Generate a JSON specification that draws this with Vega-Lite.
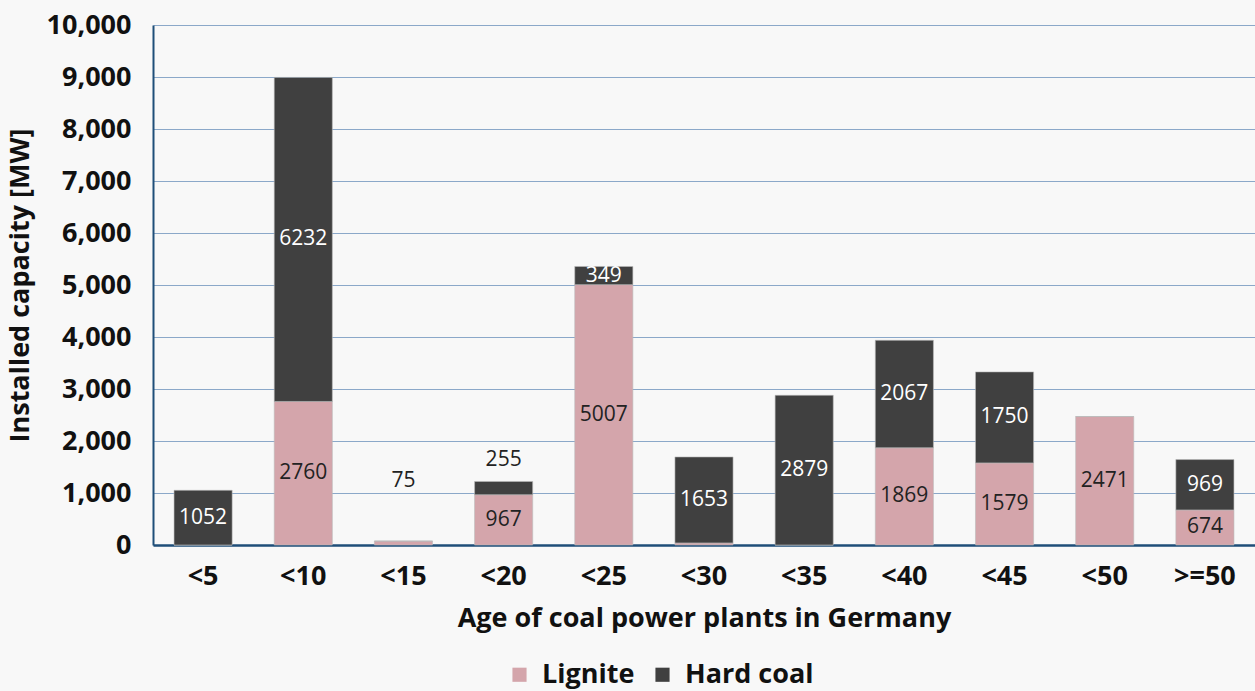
{
  "$schema": "https://vega.github.io/schema/vega-lite/v6.json",
  "autosize": "none",
  "width": 1102,
  "height": 520,
  "padding": {"left": 153, "top": 25, "right": 0, "bottom": 146},
  "background": "#f8f8f8",
  "config": {
    "font": "Open Sans",
    "view": {"stroke": null}
  },
  "data": {
    "values": [
      {"age": "<5", "type": "Lignite", "mw": 0},
      {"age": "<5", "type": "Hard coal", "mw": 1052},
      {"age": "<10", "type": "Lignite", "mw": 2760},
      {"age": "<10", "type": "Hard coal", "mw": 6232},
      {"age": "<15", "type": "Lignite", "mw": 75},
      {"age": "<15", "type": "Hard coal", "mw": 0},
      {"age": "<20", "type": "Lignite", "mw": 967},
      {"age": "<20", "type": "Hard coal", "mw": 255},
      {"age": "<25", "type": "Lignite", "mw": 5007},
      {"age": "<25", "type": "Hard coal", "mw": 349},
      {"age": "<30", "type": "Lignite", "mw": 40},
      {"age": "<30", "type": "Hard coal", "mw": 1653},
      {"age": "<35", "type": "Lignite", "mw": 0},
      {"age": "<35", "type": "Hard coal", "mw": 2879},
      {"age": "<40", "type": "Lignite", "mw": 1869},
      {"age": "<40", "type": "Hard coal", "mw": 2067},
      {"age": "<45", "type": "Lignite", "mw": 1579},
      {"age": "<45", "type": "Hard coal", "mw": 1750},
      {"age": "<50", "type": "Lignite", "mw": 2471},
      {"age": "<50", "type": "Hard coal", "mw": 0},
      {"age": ">=50", "type": "Lignite", "mw": 674},
      {"age": ">=50", "type": "Hard coal", "mw": 969}
    ]
  },
  "transform": [
    {"calculate": "datum.type === 'Lignite' ? 0 : 1", "as": "ord"},
    {"stack": "mw", "groupby": ["age"], "sort": [{"field": "ord", "order": "ascending"}], "as": ["y0", "y1"]}
  ],
  "layer": [
    {
      "mark": {"type": "bar", "stroke": "#bbbbbb", "strokeWidth": 0.6},
      "encoding": {
        "x": {
          "field": "age", "type": "nominal",
          "sort": ["<5", "<10", "<15", "<20", "<25", "<30", "<35", "<40", "<45", "<50", ">=50"],
          "scale": {"paddingInner": 0.42, "paddingOuter": 0.21},
          "axis": {
            "title": "Age of coal power plants in Germany",
            "titleFontSize": 27, "titleFontWeight": "bold", "titleColor": "#111111", "titlePadding": 16,
            "labelAngle": 0, "labelFontSize": 27, "labelFontWeight": "bold", "labelColor": "#111111", "labelPadding": 18,
            "ticks": false, "domainColor": "#1f4e79", "domainWidth": 2.5, "grid": false
          }
        },
        "y": {
          "field": "y1", "type": "quantitative",
          "scale": {"domain": [0, 10000]},
          "axis": {
            "title": "Installed capacity [MW]",
            "titleFontSize": 27, "titleFontWeight": "bold", "titleColor": "#111111", "titlePadding": 12,
            "values": [0, 1000, 2000, 3000, 4000, 5000, 6000, 7000, 8000, 9000, 10000],
            "format": ",d",
            "labelFontSize": 27, "labelFontWeight": "bold", "labelColor": "#111111", "labelPadding": 22,
            "ticks": false, "domainColor": "#1f4e79", "domainWidth": 2,
            "gridColor": "#8ba8c9", "gridWidth": 1
          }
        },
        "y2": {"field": "y0"},
        "color": {
          "field": "type", "type": "nominal",
          "scale": {"domain": ["Lignite", "Hard coal"], "range": ["#d4a5ab", "#404040"]},
          "legend": {
            "title": null, "orient": "none", "direction": "horizontal",
            "legendX": 353, "legendY": 636,
            "symbolType": "square", "symbolSize": 200, "symbolStrokeWidth": 0,
            "labelFontSize": 27, "labelFontWeight": "bold", "labelColor": "#111111",
            "columnPadding": 14, "labelOffset": 9
          }
        }
      }
    },
    {
      "transform": [
        {"filter": "datum.mw > 60"},
        {"calculate": "datum.mw < 100 ? 1240 : (datum.mw < 300 ? datum.y1 + 420 : (datum.y0 + datum.y1) / 2)", "as": "ly"},
        {"calculate": "datum.type === 'Hard coal' && datum.mw >= 300 ? 'w' : 'd'", "as": "tc"}
      ],
      "mark": {"type": "text", "fontSize": 21, "baseline": "middle", "align": "center"},
      "encoding": {
        "x": {"field": "age", "type": "nominal", "sort": ["<5", "<10", "<15", "<20", "<25", "<30", "<35", "<40", "<45", "<50", ">=50"]},
        "y": {"field": "ly", "type": "quantitative"},
        "text": {"field": "mw", "type": "quantitative", "format": "d"},
        "color": {
          "field": "tc", "type": "nominal",
          "scale": {"domain": ["w", "d"], "range": ["#ffffff", "#222222"]},
          "legend": null
        }
      }
    }
  ],
  "resolve": {"scale": {"color": "independent"}}
}
